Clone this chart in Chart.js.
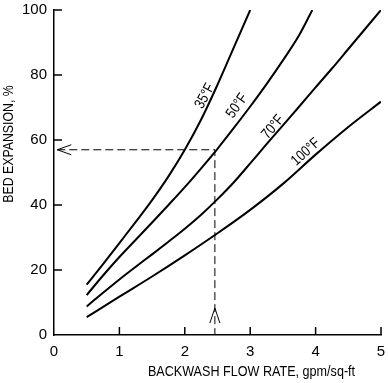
<!DOCTYPE html>
<html>
<head>
<meta charset="utf-8">
<script src="https://cdn.jsdelivr.net/npm/chart.js@4.4.1/dist/chart.umd.min.js"></script>
<style>
  html, body { margin: 0; padding: 0; background: #fff; }
  #wrap { width: 388px; height: 383px; position: relative; }
</style>
</head>
<body>
<div id="wrap"><canvas id="c"></canvas></div>
<script>
// ---- data ----
const flow35 = [0.5, 0.75, 1.0, 1.25, 1.5, 1.75, 2.0, 2.25, 2.5, 2.75, 3.0];
const exp35  = [15.5, 21.8, 28.3, 34.8, 41.5, 48.8, 57, 66.3, 77, 88.5, 100];

const flow50 = [0.5, 0.75, 1.0, 1.25, 1.5, 1.75, 2.0, 2.25, 2.5, 2.75, 3.0, 3.25, 3.5, 3.75, 3.95];
const exp50  = [12.3, 18.3, 24, 29.3, 34.6, 40, 45.5, 51.3, 57.3, 63.7, 70.3, 77.2, 84.5, 92.3, 100];

const flow70 = [0.5, 0.75, 1.0, 1.25, 1.5, 1.75, 2.0, 2.25, 2.5, 2.75, 3.0, 3.25, 3.5, 3.75, 4.0, 4.25, 4.5, 4.75, 5.0];
const exp70  = [8.8, 13, 17.1, 21, 24.8, 28.7, 32.7, 37, 41.8, 47, 52.8, 58.7, 64.5, 70.3, 76.2, 82, 88, 94, 100];

const flow100 = [0.5, 1.0, 1.5, 2.0, 2.5, 3.0, 3.5, 4.0, 4.5, 5.0];
const exp100  = [5.5, 11.8, 18, 24.5, 31.3, 38.5, 46.5, 55.5, 64, 71.8];

const seriesNames = ['35°F', '50°F', '70°F', '100°F'];
const labelX = [2.31, 2.80, 3.35, 3.85];
const labelY = [73.5, 70.5, 64.0, 56.3];
const labelAngle = [-62, -55, -50, -42];

// dashed guide (example reading)
const guideX = [0.05, 2.46, 2.46];
const guideY = [57, 57, 0];
const arrowUpY = 8.3;

const xTicks = [0, 1, 2, 3, 4, 5];
const yTicks = [0, 20, 40, 60, 80, 100];
const xTitle = 'BACKWASH FLOW RATE, gpm/sq-ft';
const yTitle = 'BED EXPANSION, %';

const toPts = (xs, ys) => xs.map((x, i) => ({ x, y: ys[i] }));
const SANS = "'Liberation Sans', Arial, Helvetica, sans-serif";

const curve = (data) => ({
  data, borderColor: '#000', borderWidth: 2, pointRadius: 0,
  cubicInterpolationMode: 'monotone', fill: false
});

const decor = {
  id: 'decor',
  afterDraw(chart) {
    const { ctx, scales: { x, y }, chartArea: a } = chart;
    ctx.save();
    // inward tick marks
    ctx.strokeStyle = '#000';
    ctx.lineWidth = 1.5;
    ctx.beginPath();
    xTicks.forEach(v => { const px = x.getPixelForValue(v); if (v > 0) { ctx.moveTo(px, a.bottom); ctx.lineTo(px, a.bottom - 8); } });
    yTicks.forEach(v => { const py = y.getPixelForValue(v); if (v > 0) { ctx.moveTo(a.left, py); ctx.lineTo(a.left + 8, py); } });
    ctx.stroke();

    // arrow heads on guide
    ctx.lineWidth = 1;
    const lx = x.getPixelForValue(guideX[0]), ly = y.getPixelForValue(guideY[0]);
    ctx.beginPath();
    ctx.moveTo(lx + 14, ly - 5); ctx.lineTo(lx, ly); ctx.lineTo(lx + 14, ly + 5);
    const ux = x.getPixelForValue(guideX[1]), uy = y.getPixelForValue(arrowUpY);
    ctx.moveTo(ux - 5, uy + 15); ctx.lineTo(ux, uy); ctx.lineTo(ux + 5, uy + 15);
    ctx.stroke();

    // curve labels (condensed)
    ctx.fillStyle = '#000';
    ctx.font = '15px ' + SANS;
    ctx.textAlign = 'center';
    ctx.textBaseline = 'middle';
    seriesNames.forEach((t, i) => {
      ctx.save();
      ctx.translate(x.getPixelForValue(labelX[i]), y.getPixelForValue(labelY[i]));
      ctx.rotate(labelAngle[i] * Math.PI / 180);
      ctx.scale(0.82, 1);
      ctx.fillText(t, 0, 0);
      ctx.restore();
    });

    // axis titles (condensed)
    ctx.font = '15px ' + SANS;
    ctx.textAlign = 'center';
    ctx.textBaseline = 'alphabetic';
    ctx.save();
    ctx.translate(251.5, 376);
    ctx.scale(0.84, 1);
    ctx.fillText(xTitle, 0, 0);
    ctx.restore();
    ctx.save();
    ctx.translate(13, 144);
    ctx.rotate(-Math.PI / 2);
    ctx.scale(0.82, 1);
    ctx.fillText(yTitle, 0, 0);
    ctx.restore();
    ctx.restore();
  }
};

new Chart(document.getElementById('c'), {
  type: 'line',
  data: {
    datasets: [
      curve(toPts(flow35, exp35)),
      curve(toPts(flow50, exp50)),
      curve(toPts(flow70, exp70)),
      curve(toPts(flow100, exp100)),
      { data: toPts(guideX, guideY), borderColor: '#000', borderWidth: 1, borderDash: [8, 4],
        pointRadius: 0, tension: 0, fill: false }
    ]
  },
  options: {
    responsive: true,
    maintainAspectRatio: false,
    animation: false,
    devicePixelRatio: 1,
    layout: { padding: { top: 10, right: 7, left: 0, bottom: 0 } },
    plugins: { legend: { display: false }, tooltip: { enabled: false } },
    scales: {
      x: {
        type: 'linear', min: 0, max: 5,
        afterFit(s) { s.height = 48; s.paddingLeft = 0; s.paddingRight = 0; },
        afterBuildTicks(s) { s.ticks = xTicks.map(v => ({ value: v })); },
        grid: { display: false, drawTicks: false },
        border: { display: true, color: '#000', width: 1.5 },
        ticks: { color: '#000', padding: 8, font: { family: SANS, size: 15 } }
      },
      y: {
        type: 'linear', min: 0, max: 100,
        afterFit(s) { s.width = 54; s.paddingTop = 0; s.paddingBottom = 0; },
        afterBuildTicks(s) { s.ticks = yTicks.map(v => ({ value: v })); },
        grid: { display: false, drawTicks: false },
        border: { display: true, color: '#000', width: 1.5 },
        ticks: { color: '#000', padding: 7, font: { family: SANS, size: 15 } }
      }
    }
  },
  plugins: [decor]
});
</script>
</body>
</html>
